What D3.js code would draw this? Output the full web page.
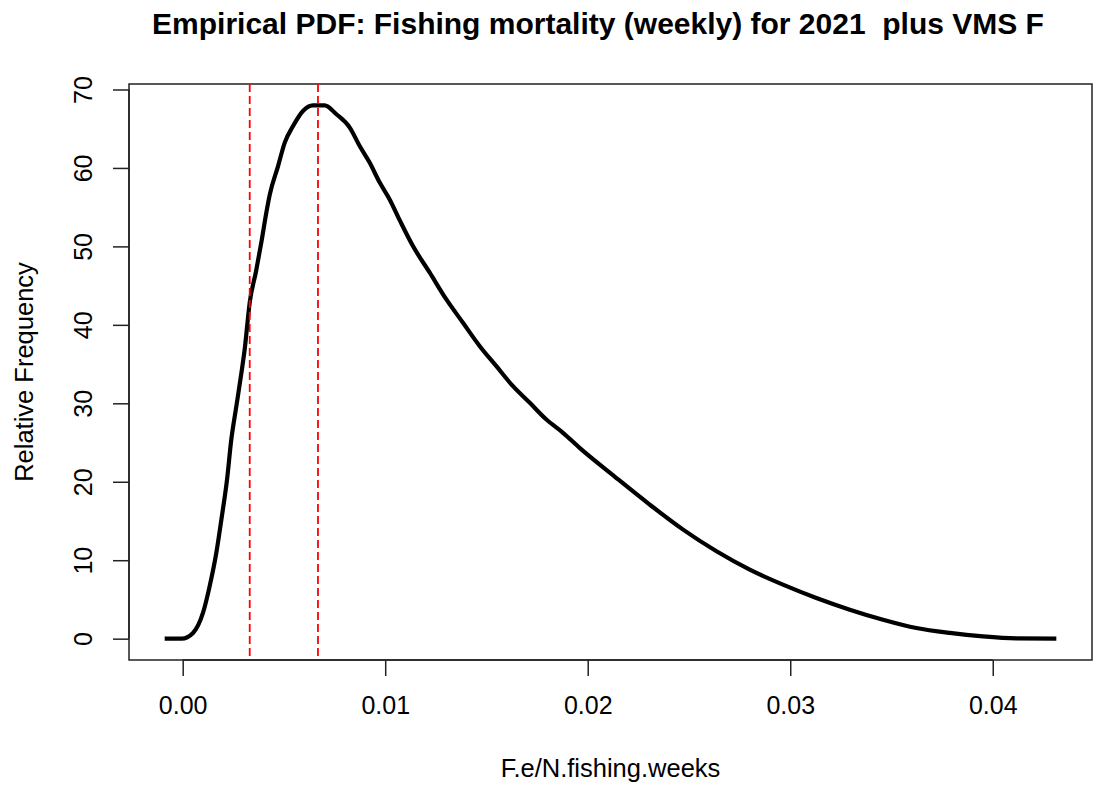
<!DOCTYPE html>
<html>
<head>
<meta charset="utf-8">
<script src="https://cdn.jsdelivr.net/npm/d3@7"></script>
<style>
  html, body { margin: 0; padding: 0; background: #fff; }
  svg { display: block; }
  text { font-family: "Liberation Sans", Arial, sans-serif; fill: #000; }
  .title { white-space: pre; }
</style>
</head>
<body>
<svg id="chart" width="1093" height="786"></svg>
<script>
// Empirical density of weekly fishing mortality (F.e / N.fishing.weeks)
const densX = [
  -0.00089, -0.00005, 0.00051, 0.00100, 0.00133, 0.00166, 0.00191, 0.00219,
  0.00240, 0.00265, 0.00290, 0.00306, 0.00331, 0.00362, 0.00389, 0.00413,
  0.00430, 0.00471, 0.00504, 0.00545, 0.00594, 0.00643, 0.00701, 0.00759,
  0.00825, 0.00874, 0.00923, 0.00973, 0.01022, 0.01072, 0.01137, 0.01220,
  0.01302, 0.01384, 0.01467, 0.01549, 0.01631, 0.01714, 0.01796, 0.01878,
  0.01960, 0.02133, 0.02306, 0.02471, 0.02636, 0.02800, 0.02964, 0.03129,
  0.03294, 0.03458, 0.03623, 0.03788, 0.03952, 0.04117, 0.04314
];
const densY = [
  0.00, 0.00, 0.73, 3.28, 6.67, 10.93, 15.18, 20.28,
  25.38, 29.63, 33.89, 36.86, 42.86, 46.80, 50.60, 54.30,
  56.60, 60.24, 63.23, 65.34, 67.26, 67.98, 67.98, 66.84,
  65.14, 62.79, 60.68, 58.13, 55.99, 53.32, 50.04, 46.65,
  43.24, 40.27, 37.28, 34.73, 32.18, 30.06, 27.93, 26.24,
  24.32, 20.66, 17.09, 13.90, 11.14, 8.80, 6.89, 5.19,
  3.70, 2.42, 1.36, 0.73, 0.29, 0.04, 0.00
];

// Reference markers (vertical dashed lines)
const refLines = [0.00331, 0.00668];

// Axis ticks
const xTicks = [0.00, 0.01, 0.02, 0.03, 0.04];
const yTicks = [0, 10, 20, 30, 40, 50, 60, 70];

const titleText = "Empirical PDF: Fishing mortality (weekly) for 2021  plus VMS F";
const xLabel = "F.e/N.fishing.weeks";
const yLabel = "Relative Frequency";

const svg = d3.select("#chart");
const plot = { left: 129, right: 1092, top: 84, bottom: 660 };

// Axis ranges padded by 4% on each side of the data range
const xMin = d3.min(densX), xMax = d3.max(densX);
const yMin = 0, yMax = d3.max(densY);
const xPad = (xMax - xMin) * 0.04, yPad = (yMax - yMin) * 0.04;

const x = d3.scaleLinear()
  .domain([xMin - xPad, xMax + xPad])
  .range([plot.left, plot.right]);
const y = d3.scaleLinear()
  .domain([yMin - yPad, yMax + yPad])
  .range([plot.bottom, plot.top]);

const pts = densX.map((v, i) => [v, densY[i]]);

// Plot frame
svg.append("rect")
  .attr("x", plot.left).attr("y", plot.top)
  .attr("width", plot.right - plot.left)
  .attr("height", plot.bottom - plot.top)
  .attr("fill", "none").attr("stroke", "#222").attr("stroke-width", 1.5);

// Density curve
svg.append("path")
  .datum(pts)
  .attr("fill", "none")
  .attr("stroke", "#000")
  .attr("stroke-width", 4.2)
  .attr("stroke-linejoin", "round")
  .attr("stroke-linecap", "butt")
  .attr("d", d3.line().x(d => x(d[0])).y(d => y(d[1])).curve(d3.curveMonotoneX));

// Dashed reference lines spanning the full plot height
svg.selectAll(".ref")
  .data(refLines)
  .join("line")
  .attr("class", "ref")
  .attr("x1", d => x(d)).attr("x2", d => x(d))
  .attr("y1", plot.top).attr("y2", plot.bottom)
  .attr("stroke", "#ff0000")
  .attr("stroke-width", 1.8)
  .attr("stroke-dasharray", "8,4");

// X axis (bottom)
const xAxis = d3.axisBottom(x).tickValues(xTicks).tickFormat(d3.format(".2f"))
  .tickSize(16).tickPadding(20);
const gx = svg.append("g")
  .attr("transform", `translate(0,${plot.bottom})`)
  .call(xAxis);
gx.select(".domain")
  .attr("d", `M${x(xTicks[0])},0H${x(xTicks[xTicks.length - 1])}`)
  .attr("stroke", "#222").attr("stroke-width", 1.5);
gx.selectAll(".tick line").attr("stroke", "#222").attr("stroke-width", 1.5);
gx.selectAll(".tick text")
  .attr("font-size", 25)
  .attr("font-family", "Liberation Sans, Arial, sans-serif")
  .attr("fill", "#000");

// Y axis (left), labels rotated parallel to the axis
const yAxis = d3.axisLeft(y).tickValues(yTicks).tickFormat(d3.format("d"))
  .tickSize(16);
const gy = svg.append("g")
  .attr("transform", `translate(${plot.left},0)`)
  .call(yAxis);
gy.select(".domain")
  .attr("d", `M0,${y(yTicks[0])}V${y(yTicks[yTicks.length - 1])}`)
  .attr("stroke", "#222").attr("stroke-width", 1.5);
gy.selectAll(".tick line").attr("stroke", "#222").attr("stroke-width", 1.5);
gy.selectAll(".tick text")
  .attr("x", null).attr("dy", null)
  .attr("transform", "translate(-37,0) rotate(-90)")
  .attr("text-anchor", "middle")
  .attr("font-size", 25)
  .attr("font-family", "Liberation Sans, Arial, sans-serif")
  .attr("fill", "#000");

// Title
svg.append("text")
  .attr("class", "title")
  .attr("xml:space", "preserve")
  .attr("x", 598)
  .attr("y", 34)
  .attr("text-anchor", "middle")
  .attr("font-size", 30)
  .attr("font-weight", "bold")
  .text(titleText);

// Axis titles
svg.append("text")
  .attr("x", (plot.left + plot.right) / 2)
  .attr("y", 777)
  .attr("text-anchor", "middle")
  .attr("font-size", 25.5)
  .text(xLabel);

svg.append("text")
  .attr("transform", `translate(33,${(plot.top + plot.bottom) / 2}) rotate(-90)`)
  .attr("text-anchor", "middle")
  .attr("font-size", 25.5)
  .text(yLabel);
</script>
</body>
</html>
